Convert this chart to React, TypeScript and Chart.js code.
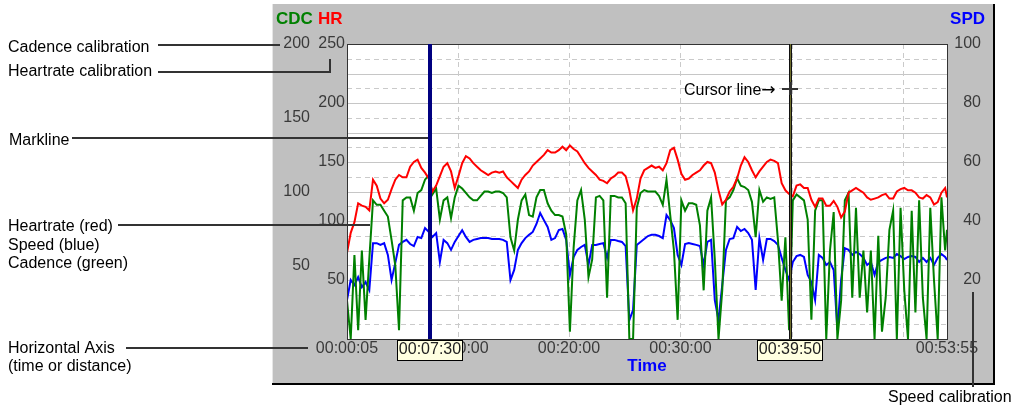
import { useEffect, useRef } from 'react';
import { Chart, registerables } from 'chart.js';

Chart.register(...registerables);

// ---------- DATA ----------
// sample times in seconds (elapsed clock time)
const timeSec: number[] = [
  5, 25, 45, 65, 85, 105, 125, 145, 165, 185,
  205, 225, 245, 265, 285, 305, 325, 345, 365, 385,
  405, 425, 445, 465, 485, 505, 525, 545, 565, 585,
  605, 625, 645, 665, 685, 705, 725, 745, 765, 785,
  805, 825, 845, 865, 885, 905, 925, 945, 965, 985,
  1005, 1025, 1045, 1065, 1085, 1105, 1125, 1145, 1165, 1185,
  1205, 1225, 1245, 1265, 1285, 1305, 1325, 1345, 1365, 1385,
  1405, 1425, 1445, 1465, 1485, 1505, 1525, 1545, 1565, 1585,
  1605, 1625, 1645, 1665, 1685, 1705, 1725, 1745, 1765, 1785,
  1805, 1825, 1845, 1865, 1885, 1905, 1925, 1945, 1965, 1985,
  2005, 2025, 2045, 2065, 2085, 2105, 2125, 2145, 2165, 2185,
  2205, 2225, 2245, 2265, 2285, 2305, 2325, 2345, 2365, 2385,
  2405, 2425, 2445, 2465, 2485, 2505, 2525, 2545, 2565, 2585,
  2605, 2625, 2645, 2665, 2685, 2705, 2725, 2745, 2765, 2785,
  2805, 2825, 2845, 2865, 2885, 2905, 2925, 2945, 2965, 2985,
  3005, 3025, 3045, 3065, 3085, 3105, 3125, 3145, 3165, 3185,
  3205, 3225, 3235,
];

// heart rate (bpm)
const heartRate: number[] = [
  73, 90, 99, 115, 113, 112, 109, 135, 130, 119,
  115, 118, 127, 135, 139, 137, 137, 146, 150, 152,
  145, 141, 136, 125, 130, 138, 146, 149, 142, 128,
  138, 149, 155, 153, 149, 146, 143, 141, 139, 141,
  142, 141, 142, 137, 134, 131, 128, 135, 139, 142,
  147, 150, 153, 156, 160, 158, 158, 160, 163, 160,
  164, 161, 159, 154, 149, 145, 142, 139, 135, 134,
  132, 136, 138, 141, 141, 138, 126, 109, 119, 136,
  143, 145, 147, 145, 146, 143, 149, 160, 162, 152,
  140, 135, 136, 139, 141, 143, 147, 150, 149, 141,
  126, 114, 118, 125, 129, 136, 147, 154, 150, 143,
  137, 142, 146, 150, 152, 151, 149, 132, 126, 123,
  121, 130, 131, 128, 128, 118, 112, 119, 119, 113,
  113, 117, 112, 103, 108, 124, 126, 128, 126, 124,
  120, 118, 119, 120, 122, 123, 119, 119, 125, 127,
  128, 126, 126, 124, 120, 119, 122, 120, 114, 116,
  124, 128, 120,
];

// speed (km/h)
const speed: number[] = [
  13.2, 20, 18.3, 21, 17.6, 19.3, 16.6, 32.5, 32.5, 31.9,
  32.5, 28.5, 20, 25.8, 31.9, 32.9, 33.6, 32.2, 31.5, 34.6,
  34.2, 37.6, 36.3, 34.6, 35.9, 26.1, 33.6, 32.5, 30.2, 32.9,
  34.9, 36.9, 34.6, 32.9, 33.6, 33.9, 34.2, 34.2, 34.2, 33.9,
  33.9, 33.9, 33.6, 32.9, 20, 23.4, 30.2, 32.5, 34.2, 35.3,
  36.3, 39, 42.7, 40.3, 38, 33.6, 34.2, 36.9, 37.3, 33.6,
  21.7, 27.8, 30.2, 31.2, 31.9, 25.1, 31.9, 31.9, 32.2, 32.5,
  27.5, 33.6, 33.6, 33.2, 32.9, 31.5, 6.4, 9.8, 31.9, 32.9,
  33.9, 34.9, 35.3, 35.3, 34.9, 34.2, 42, 40.3, 37.6, 28.5,
  25.1, 32.2, 32.5, 32.2, 31.9, 31.5, 25.1, 32.9, 33.6, 13.2,
  6.4, 18.3, 30.2, 33.9, 34.2, 38, 36.6, 37.3, 35.9, 33.6,
  16.6, 34.2, 26.8, 33.9, 33.9, 33.2, 31.9, 27.5, 23.4, 20,
  26.1, 28.1, 28.5, 27.8, 21.7, 19.3, 13.2, 28.5, 27.5, 25.1,
  26.1, 23.4, 3, 20, 30.8, 30.2, 28.5, 29.5, 28.8, 27.5,
  25.1, 26.1, 21.7, 26.1, 26.8, 27.5, 27.8, 27.5, 28.8, 28.1,
  27.1, 27.8, 28.1, 27.8, 26.1, 27.5, 26.1, 27.5, 25.1, 27.5,
  28.8, 27.8, 26.8,
];

// cadence (rpm)
const cadence: number[] = [
  26, 0, 57, 6, 60, 13, 54, 94, 91, 91,
  87, 83, 67, 50, 6, 94, 96, 96, 87, 99,
  101, 108, 111, 98, 102, 81, 94, 96, 82, 96,
  104, 102, 99, 96, 94, 94, 97, 100, 100, 99,
  100, 100, 99, 96, 69, 60, 81, 94, 98, 84,
  83, 96, 101, 101, 92, 87, 84, 84, 83, 71,
  5, 62, 94, 101, 81, 42, 54, 96, 97, 94,
  28, 97, 97, 96, 96, 92, 0, 0, 89, 99,
  101, 100, 100, 100, 97, 91, 108, 84, 60, 13,
  94, 87, 92, 92, 91, 77, 33, 87, 96, 54,
  0, 33, 94, 96, 101, 109, 104, 103, 101, 93,
  69, 101, 93, 96, 95, 96, 67, 26, 69, 6,
  94, 98, 96, 94, 81, 13, 87, 94, 94, 0,
  60, 86, 0, 26, 94, 99, 28, 89, 28, 60,
  18, 60, 0, 70, 5, 28, 74, 87, 0, 89,
  33, 0, 87, 18, 94, 28, 0, 89, 40, 0,
  96, 60, 74,
];

const hrTicks = [50, 100, 150, 200, 250];
const cdcTicks = [50, 100, 150, 200];
const spdTicks = [20, 40, 60, 80, 100];
const xTickSec = [5, 600, 1200, 1800, 2400, 3235];
const xTickLabels = ['00:00:05', '00:10:00', '00:20:00', '00:30:00', '00:40:00', '00:53:55'];
const xGridSec = [600, 1200, 1800, 2400, 3000];
const markSec = 450;
const markLabel = '00:07:30';
const cursorSec = 2390;
const cursorLabel = '00:39:50';

const W = 1021;
const H = 405;
const FONT = '"Liberation Sans", Arial, Helvetica, sans-serif';

const decor = {
  id: 'decor',
  beforeDraw(chart: any) {
    const ctx: CanvasRenderingContext2D = chart.ctx;
    const a = chart.chartArea;
    const x = chart.scales.x;
    const yHR = chart.scales.yHR;
    ctx.save();
    ctx.fillStyle = '#ffffff';
    ctx.fillRect(0, 0, W, H);
    // panel
    ctx.fillStyle = '#C0C0C0';
    ctx.fillRect(273, 4, 720, 379);
    ctx.fillStyle = '#E6E6E6';
    ctx.fillRect(272, 4, 1, 379);
    ctx.fillStyle = '#000000';
    ctx.fillRect(993, 4, 2, 381);
    ctx.fillRect(272, 383, 723, 2);
    // plot area
    ctx.fillStyle = '#ffffff';
    ctx.fillRect(a.left, a.top, a.right - a.left, a.bottom - a.top);
    // horizontal grid
    ctx.lineWidth = 1;
    for (let v = 12.5; v < 250; v += 12.5) {
      const py = Math.round(yHR.getPixelForValue(v)) + 0.5;
      const solid = Math.abs(v % 25) < 0.001;
      ctx.strokeStyle = solid ? '#C6C6C6' : '#CACACA';
      ctx.setLineDash(solid ? [] : [5, 4]);
      ctx.beginPath();
      ctx.moveTo(a.left, py);
      ctx.lineTo(a.right, py);
      ctx.stroke();
    }
    // vertical grid
    ctx.strokeStyle = '#CACACA';
    ctx.setLineDash([5, 4]);
    for (const t of xGridSec) {
      const px = Math.round(x.getPixelForValue(t)) + 0.5;
      ctx.beginPath();
      ctx.moveTo(px, a.top);
      ctx.lineTo(px, a.bottom);
      ctx.stroke();
    }
    ctx.restore();
  },
  afterDatasetsDraw(chart: any) {
    const ctx: CanvasRenderingContext2D = chart.ctx;
    const a = chart.chartArea;
    const x = chart.scales.x;
    ctx.save();
    // plot border
    ctx.strokeStyle = '#333333';
    ctx.lineWidth = 1;
    ctx.strokeRect(a.left + 0.5, a.top + 0.5, a.right - a.left, a.bottom - a.top);
    // markline
    const mx = Math.round(x.getPixelForValue(markSec));
    ctx.fillStyle = '#000080';
    ctx.fillRect(mx - 2, a.top, 4, a.bottom - a.top);
    // cursor line
    const cx = Math.round(x.getPixelForValue(cursorSec));
    ctx.fillStyle = '#111111';
    ctx.fillRect(cx - 1, a.top, 3, a.bottom - a.top);
    ctx.fillStyle = '#6E6E2C';
    ctx.fillRect(cx, a.top, 1, a.bottom - a.top);
    // cross marker on cursor
    ctx.fillStyle = '#333333';
    ctx.fillRect(cx - 8, 88, 16, 2);
    ctx.fillRect(cx - 1, 82, 3, 13);
    ctx.restore();
  },
  afterDraw(chart: any) {
    const ctx: CanvasRenderingContext2D = chart.ctx;
    const a = chart.chartArea;
    const x = chart.scales.x;
    const yHR = chart.scales.yHR;
    const yCDC = chart.scales.yCDC;
    const ySPD = chart.scales.ySPD;
    ctx.save();
    // axis titles
    ctx.textBaseline = 'alphabetic';
    ctx.font = `bold 17px ${FONT}`;
    ctx.textAlign = 'left';
    ctx.fillStyle = '#008000';
    ctx.fillText('CDC', 276, 24);
    ctx.fillStyle = '#FF0000';
    ctx.fillText('HR', 318, 24);
    ctx.textAlign = 'right';
    ctx.fillStyle = '#0000FF';
    ctx.fillText('SPD', 985, 24);
    ctx.textAlign = 'center';
    ctx.fillText('Time', (a.left + a.right) / 2, 371);

    // tick labels
    ctx.font = `16px ${FONT}`;
    ctx.fillStyle = '#3A3A3A';
    ctx.textBaseline = 'middle';
    ctx.textAlign = 'right';
    for (const v of cdcTicks) ctx.fillText(String(v), 310, yCDC.getPixelForValue(v));
    for (const v of hrTicks) ctx.fillText(String(v), 345, yHR.getPixelForValue(v));
    for (const v of spdTicks) ctx.fillText(String(v), 981, ySPD.getPixelForValue(v));
    ctx.textAlign = 'center';
    xTickSec.forEach((t, i) => {
      ctx.fillText(xTickLabels[i], x.getPixelForValue(t), 349);
    });

    // value boxes on the time axis
    const box = (t: number, label: string) => {
      const px = Math.round(x.getPixelForValue(t));
      const tw = ctx.measureText(label).width;
      const bw = Math.round(tw + 4);
      const bx = px - Math.round(bw / 2);
      ctx.fillStyle = '#FFFFE1';
      ctx.fillRect(bx, 340, bw, 21);
      ctx.strokeStyle = '#000000';
      ctx.lineWidth = 1;
      ctx.strokeRect(bx + 0.5, 340.5, bw - 1, 20);
      ctx.fillStyle = '#222222';
      ctx.textAlign = 'center';
      ctx.fillText(label, bx + bw / 2, 349.5);
    };
    box(markSec, markLabel);
    box(cursorSec, cursorLabel);

    // annotations
    ctx.fillStyle = '#000000';
    ctx.textAlign = 'left';
    ctx.textBaseline = 'alphabetic';
    ctx.font = `16px ${FONT}`;
    ctx.fillText('Cadence calibration', 8, 52);
    ctx.fillText('Heartrate calibration', 8, 76);
    ctx.fillText('Markline', 9, 145);
    ctx.fillText('Heartrate (red)', 8, 231);
    ctx.fillText('Speed (blue)', 8, 250);
    ctx.fillText('Cadence (green)', 8, 268);
    ctx.fillText('Horizontal Axis', 8, 353);
    ctx.fillText('(time or distance)', 8, 371);
    ctx.fillText('Speed calibration', 888, 402);
    ctx.fillText('Cursor line', 684, 95);
    const cw = ctx.measureText('Cursor line').width;
    ctx.font = '17px "DejaVu Sans", sans-serif';
    ctx.fillText('\u2192', 684 + cw, 95);

    // leader lines
    ctx.fillStyle = '#333333';
    ctx.fillRect(158, 44, 122, 2);
    ctx.fillRect(158, 71, 173, 2);
    ctx.fillRect(329, 59, 2, 14);
    ctx.fillRect(72, 137, 356, 2);
    ctx.fillRect(118, 224, 252, 2);
    ctx.fillRect(126, 347, 182, 2);
    ctx.fillRect(972, 292, 2, 95);
    ctx.restore();
  },
};

export default function App() {
  const ref = useRef<HTMLCanvasElement>(null);
  useEffect(() => {
    const canvas = ref.current;
    if (!canvas) return;
    const pts = (vals: number[]) => timeSec.map((t, i) => ({ x: t, y: vals[i] }));
    const chart = new Chart(canvas, {
      type: 'line',
      data: {
        datasets: [
          { label: 'HR', data: pts(heartRate), yAxisID: 'yHR', borderColor: '#FF0000', backgroundColor: '#FF0000', borderWidth: 2, pointRadius: 0, tension: 0, order: 0 },
          { label: 'CDC', data: pts(cadence), yAxisID: 'yCDC', borderColor: '#008000', backgroundColor: '#008000', borderWidth: 2, pointRadius: 0, tension: 0, order: 1 },
          { label: 'SPD', data: pts(speed), yAxisID: 'ySPD', borderColor: '#0000FF', backgroundColor: '#0000FF', borderWidth: 2, pointRadius: 0, tension: 0, order: 2 },
        ],
      },
      options: {
        responsive: false,
        animation: false,
        devicePixelRatio: 1,
        layout: { padding: { left: 347, top: 44, right: 74, bottom: 66 } },
        plugins: { legend: { display: false }, tooltip: { enabled: false } },
        events: [],
        scales: {
          x: { type: 'linear', min: 5, max: 3235, display: false },
          yHR: { type: 'linear', position: 'left', min: 0, max: 250, display: false },
          yCDC: { type: 'linear', position: 'left', min: 0, max: 200, display: false },
          ySPD: { type: 'linear', position: 'right', min: 0, max: 100, display: false },
        },
      },
      plugins: [decor],
    } as any);
    return () => chart.destroy();
  }, []);
  return (
    <div style={{ position: 'fixed', left: 0, top: 0, width: W, height: H, background: '#ffffff' }}>
      <canvas ref={ref} width={W} height={H} style={{ display: 'block', width: W, height: H }} />
    </div>
  );
}
